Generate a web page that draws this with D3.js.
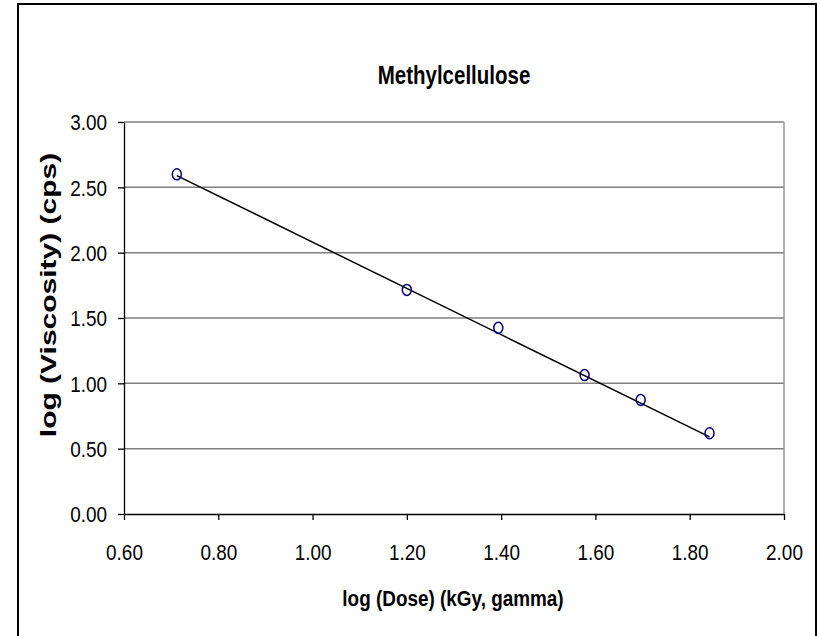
<!DOCTYPE html>
<html>
<head>
<meta charset="utf-8">
<script src="https://cdn.jsdelivr.net/npm/d3@7"></script>
<style>
body { margin: 0; background: #fff; }
svg text { fill: #000; }
.tick-label { font-family: "Liberation Sans", Arial, sans-serif; font-size: 22px; }
.title { font-family: "Liberation Sans", Arial, sans-serif; font-weight: bold; }
</style>
</head>
<body>
<div id="chart"></div>
<script>
let w = 817;
let h = 636;

// data
let dose = [0.712, 1.200, 1.394, 1.577, 1.696, 1.842];
let viscosity = [2.60, 1.715, 1.425, 1.063, 0.873, 0.618];
let trend_x = [0.712, 1.842];
let trend_y = [2.59, 0.59];
let x_ticks = [0.60, 0.80, 1.00, 1.20, 1.40, 1.60, 1.80, 2.00];
let y_ticks = [0.00, 0.50, 1.00, 1.50, 2.00, 2.50, 3.00];

let plot_left = 124, plot_right = 784, plot_top = 122, plot_bottom = 514;
let squeeze = 0.86;

let x_scale = d3.scaleLinear()
    .domain([0.6, 2.0])
    .range([plot_left, plot_right]);

let y_scale = d3.scaleLinear()
    .domain([0, 3])
    .range([plot_bottom, plot_top]);

let svg = d3.select("#chart")
    .append("svg")
    .attr("width", w)
    .attr("height", h);

// outer chart border
svg.append("rect")
    .attr("x", 18)
    .attr("y", 4)
    .attr("width", 798)
    .attr("height", 650)
    .attr("fill", "#fff")
    .attr("stroke", "#000")
    .attr("stroke-width", 2);

// gridlines
svg.selectAll(".grid")
    .data(y_ticks.filter(d => d > 0))
    .enter()
    .append("line")
    .attr("class", "grid")
    .attr("x1", plot_left)
    .attr("x2", plot_right)
    .attr("y1", d => y_scale(d))
    .attr("y2", d => y_scale(d))
    .attr("stroke", "#808080")
    .attr("stroke-width", 1.5);

// right plot border
svg.append("line")
    .attr("x1", plot_right)
    .attr("x2", plot_right)
    .attr("y1", plot_top)
    .attr("y2", plot_bottom)
    .attr("stroke", "#999")
    .attr("stroke-width", 1.5);

let x_axis = d3.axisBottom()
    .scale(x_scale)
    .tickValues(x_ticks)
    .tickSize(6)
    .tickSizeOuter(0)
    .tickPadding(24)
    .tickFormat(d3.format(".2f"));

let y_axis = d3.axisLeft()
    .scale(y_scale)
    .tickValues(y_ticks)
    .tickSize(6)
    .tickSizeOuter(0)
    .tickFormat(d3.format(".2f"));

let gx = svg.append("g")
    .attr("transform", "translate(0, " + plot_bottom + ")")
    .call(x_axis);

let gy = svg.append("g")
    .attr("transform", "translate(" + plot_left + ", 0)")
    .call(y_axis);

[gx, gy].forEach(g => {
    g.selectAll("path, line").attr("stroke", "#000").attr("stroke-width", 1.3);
    g.selectAll("text").attr("class", "tick-label").attr("fill", "#000");
});
// condensed look of the original labels
gx.selectAll("text").attr("transform", "scale(" + squeeze + ",1)");
gy.selectAll("text")
    .attr("dy", "0.36em")
    .attr("x", -17 / squeeze)
    .attr("transform", "scale(" + squeeze + ",1)");

// trend line
svg.append("line")
    .attr("x1", x_scale(trend_x[0]))
    .attr("y1", y_scale(trend_y[0]))
    .attr("x2", x_scale(trend_x[1]))
    .attr("y2", y_scale(trend_y[1]))
    .attr("stroke", "#000")
    .attr("stroke-width", 1.5);

// markers
svg.selectAll(".pt")
    .data(dose)
    .enter()
    .append("ellipse")
    .attr("class", "pt")
    .attr("cx", d => x_scale(d))
    .attr("cy", (d, i) => y_scale(viscosity[i]))
    .attr("rx", 4.5)
    .attr("ry", 5.5)
    .attr("fill", "none")
    .attr("stroke", "#000080")
    .attr("stroke-width", 1.5);

// titles
svg.append("text")
    .attr("class", "title")
    .attr("transform", "translate(454, 84) scale(0.82,1)")
    .attr("text-anchor", "middle")
    .style("font-size", "25px")
    .text("Methylcellulose");

svg.append("text")
    .attr("class", "title")
    .attr("transform", "translate(453, 606) scale(" + squeeze + ",1)")
    .attr("text-anchor", "middle")
    .style("font-size", "22px")
    .text("log (Dose) (kGy, gamma)");

svg.append("text")
    .attr("class", "title")
    .attr("transform", "translate(56, 295) rotate(-90) scale(1,0.72)")
    .attr("text-anchor", "middle")
    .style("font-size", "30px")
    .text("log (Viscosity) (cps)");
</script>
</body>
</html>
